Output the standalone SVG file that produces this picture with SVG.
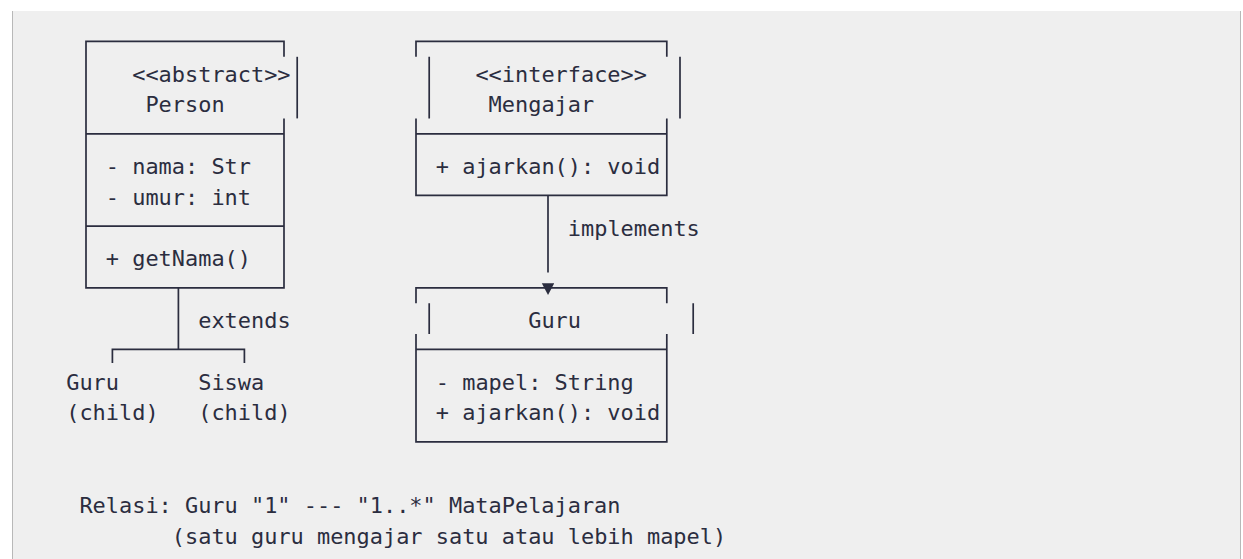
<svg xmlns="http://www.w3.org/2000/svg" width="1243" height="559" viewBox="0 0 1243 559">
  <style>
    .t { font-family: "DejaVu Sans Mono", "Liberation Mono", monospace; font-size: 21.93px; fill: #2b2d3f; white-space: pre; }
    .b { fill: none; stroke: #2b2d3f; stroke-width: 1.7; }
  </style>
  <defs>
    <!-- filled triangle head, set slightly ahead of the line end -->
    <marker id="tri" markerUnits="userSpaceOnUse" markerWidth="24" markerHeight="14" refX="0" refY="6.2" orient="auto">
      <path d="M10.9,0 L22.6,6.2 L10.9,12.4 Z" fill="#2b2d3f"/>
    </marker>
  </defs>

  <!-- code block panel -->
  <rect width="1243" height="559" fill="#ffffff"/>
  <rect x="12" y="11" width="1229" height="548" fill="#efefef"/>
  <line x1="12.5" y1="11" x2="12.5" y2="559" stroke="#b8b8b8" stroke-width="1"/>
  <line x1="1240.5" y1="11" x2="1240.5" y2="559" stroke="#b8b8b8" stroke-width="1"/>

  <!-- abstract class Person -->
  <g id="person">
    <path class="b" d="M284,56.8 V41.4 H86 V287.8 H284 V118.4"/>
    <path class="b" d="M297.2,56.8 V118.4"/>
    <path class="b" d="M86,133.8 H284 M86,226.2 H284"/>
    <text class="t" x="132.2" y="81.5">&lt;&lt;abstract&gt;&gt;</text>
    <text class="t" x="145.4" y="112.3">Person</text>
    <text class="t" x="105.8" y="173.9">- nama: Str</text>
    <text class="t" x="105.8" y="204.7">- umur: int</text>
    <text class="t" x="105.8" y="266.3">+ getNama()</text>
  </g>

  <!-- interface Mengajar -->
  <g id="mengajar">
    <path class="b" d="M416,56.8 V41.4 H666.8 V56.8"/>
    <path class="b" d="M429.2,56.8 V118.4 M680,56.8 V118.4"/>
    <path class="b" d="M416,118.4 V195.4 H666.8 V118.4"/>
    <path class="b" d="M416,133.8 H666.8"/>
    <text class="t" x="475.4" y="81.5">&lt;&lt;interface&gt;&gt;</text>
    <text class="t" x="488.6" y="112.3">Mengajar</text>
    <text class="t" x="435.8" y="173.9">+ ajarkan(): void</text>
  </g>

  <!-- class Guru -->
  <g id="guru">
    <path class="b" d="M416,303.2 V287.8 H666.8 V303.2"/>
    <path class="b" d="M429.2,303.2 V334 M693.2,303.2 V334"/>
    <path class="b" d="M416,334 V441.8 H666.8 V334"/>
    <path class="b" d="M416,349.4 H666.8"/>
    <text class="t" x="528.2" y="327.9">Guru</text>
    <text class="t" x="435.8" y="389.5">- mapel: String</text>
    <text class="t" x="435.8" y="420.3">+ ajarkan(): void</text>
  </g>

  <!-- subclasses of Person -->
  <g id="child-guru">
    <text class="t" x="66.2" y="389.5">Guru</text>
    <text class="t" x="66.2" y="420.3">(child)</text>
  </g>
  <g id="child-siswa">
    <text class="t" x="198.2" y="389.5">Siswa</text>
    <text class="t" x="198.2" y="420.3">(child)</text>
  </g>

  <!-- connectors -->
  <g id="connectors">
    <path class="b" d="M178.4,287.8 V349.4 M112.4,363 V349.4 H244.4 V363"/>
    <text class="t" x="198.2" y="327.9">extends</text>
    <line class="b" x1="548" y1="195.4" x2="548" y2="272.4" marker-end="url(#tri)"/>
    <text class="t" x="567.8" y="235.5">implements</text>
  </g>

  <!-- association note -->
  <g id="relation-note">
    <text class="t" x="79.4" y="512.7">Relasi: Guru "1" --- "1..*" MataPelajaran</text>
    <text class="t" x="171.8" y="543.5">(satu guru mengajar satu atau lebih mapel)</text>
  </g>
</svg>
